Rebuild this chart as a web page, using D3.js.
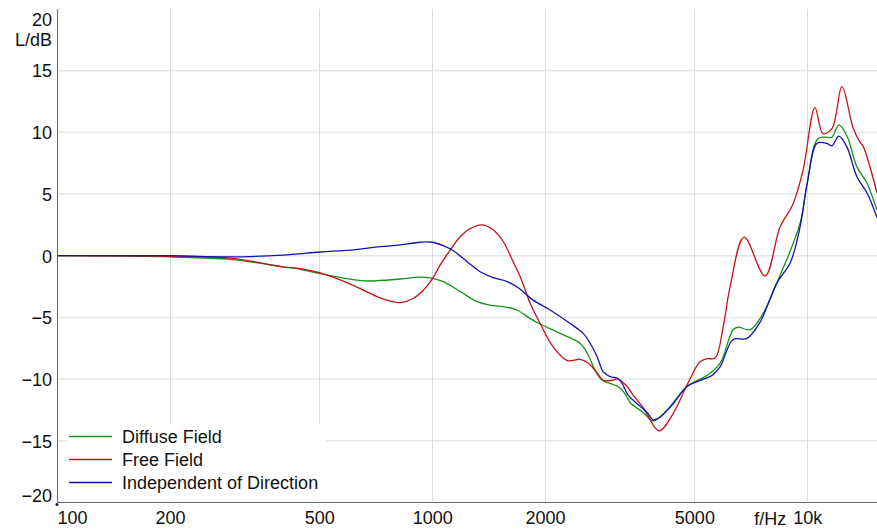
<!DOCTYPE html>
<html>
<head>
<meta charset="utf-8">
<script src="https://cdn.jsdelivr.net/npm/d3@7"></script>
<style>
  html, body { margin: 0; padding: 0; background: #fff; }
  svg { display: block; font-family: "Liberation Sans", Arial, sans-serif; }
  .grid-h { stroke: #e6e6e6; stroke-width: 1.5; }
  .grid-v { stroke: #dcdcdc; stroke-width: 1; }
  .axis-line { stroke: #666; stroke-width: 1; }
  .tick-label { font-size: 18px; fill: #111; }
  .legend-label { font-size: 18px; fill: #111; }
  .result-line { fill: none; stroke-width: 1.3; }
</style>
</head>
<body>
<svg id="chart" width="877" height="529"></svg>
<script>
// Values (Hz, dB)
const yTicks = [-20, -15, -10, -5, 0, 5, 10, 15, 20];
const xTicks = [100, 200, 500, 1000, 2000, 5000, 10000];
const xTickLabels = ['100', '200', '500', '1000', '2000', '5000', '10k'];

const seriesNames = ['Diffuse Field', 'Free Field', 'Independent of Direction'];
const seriesColors = ['#17921a', '#c41414', '#1212b0'];

const diffuseFreq = [100, 200, 290, 400, 445, 503, 605, 672, 822, 930, 1002, 1071, 1188, 1318, 1426, 1548, 1684, 1825, 1941, 2195, 2480, 2605, 2720, 2840, 2982, 3131, 3269, 3370, 3650, 3880, 4230, 4780, 5410, 5860, 6340, 6540, 7040, 7620, 8300, 9560, 10000, 10680, 11280, 11630, 12140, 12760, 13560, 14420, 15340];
const diffuseLevel = [0, -0.1, -0.3, -0.9, -1.1, -1.45, -1.9, -2.05, -1.89, -1.73, -1.83, -2.1, -2.9, -3.73, -4.0, -4.13, -4.4, -5.1, -5.54, -6.3, -7.1, -8.05, -9.3, -10.1, -10.35, -10.6, -11.2, -11.9, -12.7, -13.4, -12.5, -10.6, -9.7, -8.7, -6.0, -5.8, -6.0, -4.7, -2.2, 2.6, 5.9, 9.5, 9.6, 9.6, 10.6, 9.7, 7.2, 5.9, 3.7];

const freeFreq = [100, 200, 290, 400, 445, 503, 605, 672, 740, 822, 891, 947, 1002, 1051, 1117, 1188, 1262, 1360, 1454, 1548, 1644, 1717, 1825, 1941, 2102, 2291, 2480, 2605, 2754, 2856, 3019, 3131, 3309, 3434, 3650, 4027, 4388, 4812, 5178, 5400, 5680, 5965, 6227, 6785, 7715, 8457, 9161, 9739, 10484, 11009, 11634, 12370, 13234, 13816, 14073, 15340];
const freeLevel = [0, -0.05, -0.2, -0.9, -1.05, -1.4, -2.3, -2.95, -3.5, -3.8, -3.45, -2.8, -1.85, -0.75, 0.46, 1.54, 2.2, 2.5, 2.1, 1.13, -0.5, -1.7, -3.86, -5.5, -7.4, -8.5, -8.4, -8.7, -9.5, -10.1, -10.1, -10.0, -10.6, -11.3, -12.3, -14.2, -12.8, -10.3, -8.6, -8.35, -8.3, -5.8, -2.5, 1.5, -1.65, 2.3, 4.2, 6.9, 12.0, 9.9, 10.3, 13.7, 10.4, 9.2, 8.9, 5.1];

const independentFreq = [100, 200, 290, 400, 503, 605, 727, 822, 930, 1002, 1071, 1141, 1240, 1342, 1454, 1585, 1697, 1859, 2063, 2333, 2527, 2638, 2754, 2856, 2982, 3131, 3228, 3330, 3740, 3880, 4050, 4390, 4780, 5180, 5580, 5860, 6340, 6910, 7480, 8300, 9000, 9560, 10000, 10610, 11280, 11630, 12140, 12760, 13560, 14420, 15340];
const independentLevel = [0, 0, -0.1, 0.05, 0.3, 0.45, 0.73, 0.87, 1.09, 1.09, 0.81, 0.38, -0.49, -1.3, -1.78, -2.1, -2.6, -3.6, -4.4, -5.5, -6.3, -7.1, -8.2, -9.4, -9.8, -9.95, -10.5, -11.3, -12.7, -13.3, -13.1, -12.0, -10.6, -10.1, -9.7, -9.0, -6.8, -6.7, -5.4, -2.2, -0.6, 2.3, 5.9, 9.1, 9.1, 8.9, 9.7, 8.8, 6.4, 5.1, 3.1];

const seriesFreqs = [diffuseFreq, freeFreq, independentFreq];
const seriesLevels = [diffuseLevel, freeLevel, independentLevel];

const plot = { left: 57, right: 877, top: 9, bottom: 502.4 };

const svg = d3.select('#chart');
const x = d3.scaleLog().domain([100, 15340]).range([plot.left, plot.right]);
const y = d3.scaleLinear().domain([-20, 20]).range([plot.bottom, plot.top]);

svg.append('defs')
  .append('clipPath')
  .attr('id', 'plot-clip')
  .append('rect')
  .attr('x', plot.left)
  .attr('y', plot.top)
  .attr('width', plot.right - plot.left)
  .attr('height', plot.bottom - plot.top);

// grid
svg.append('g')
  .selectAll('line')
  .data(yTicks.filter((t) => t > -20 && t < 20))
  .join('line')
  .attr('class', 'grid-h')
  .attr('x1', plot.left)
  .attr('x2', plot.right)
  .attr('y1', (d) => y(d))
  .attr('y2', (d) => y(d));

svg.append('g')
  .selectAll('line')
  .data(xTicks.slice(1))
  .join('line')
  .attr('class', 'grid-v')
  .attr('x1', (d) => Math.round(x(d)) + 0.5)
  .attr('x2', (d) => Math.round(x(d)) + 0.5)
  .attr('y1', plot.top)
  .attr('y2', plot.bottom);

// curves
const line = d3.line()
  .x((d) => x(d.f))
  .y((d) => y(d.l))
  .curve(d3.curveCatmullRom.alpha(0.5));

const curves = svg.append('g').attr('clip-path', 'url(#plot-clip)');

seriesNames.forEach((name, i) => {
  const data = seriesFreqs[i].map((f, k) => ({ f, l: seriesLevels[i][k] }));
  curves.append('path')
    .datum(data)
    .attr('class', 'result-line')
    .attr('stroke', seriesColors[i])
    .attr('d', line);
});

// axes
const yAxis = svg.append('g')
  .attr('transform', `translate(${plot.left}, 0)`)
  .call(d3.axisLeft(y).tickValues(yTicks).tickSize(0).tickPadding(5));
yAxis.select('.domain').remove();
yAxis.selectAll('text')
  .attr('class', 'tick-label')
  .attr('font-family', null)
  .attr('dy', (d) => (d === 20 ? '0.9em' : d === -20 ? '-0.05em' : '0.35em'));

svg.append('text')
  .attr('class', 'tick-label')
  .attr('x', plot.left - 5)
  .attr('y', 46)
  .attr('text-anchor', 'end')
  .text('L/dB');

const xAxis = svg.append('g')
  .attr('transform', `translate(0, ${plot.bottom})`)
  .call(d3.axisBottom(x).tickValues(xTicks).tickSize(0).tickPadding(9)
    .tickFormat((d, i) => xTickLabels[i]));
xAxis.select('.domain').remove();
xAxis.selectAll('text')
  .attr('class', 'tick-label')
  .attr('font-family', null)
  .attr('dx', (d) => (d === 100 ? '15' : 0));

svg.append('text')
  .attr('class', 'tick-label')
  .attr('x', x(10000) - 21)
  .attr('y', plot.bottom + 22.5)
  .attr('text-anchor', 'end')
  .text('f/Hz');

svg.append('line')
  .attr('class', 'axis-line')
  .attr('x1', plot.left + 0.5)
  .attr('x2', plot.left + 0.5)
  .attr('y1', plot.top)
  .attr('y2', plot.bottom);

svg.append('line')
  .attr('class', 'axis-line')
  .attr('x1', plot.left)
  .attr('x2', plot.right)
  .attr('y1', Math.round(plot.bottom) + 0.5)
  .attr('y2', Math.round(plot.bottom) + 0.5);

svg.append('circle')
  .attr('cx', plot.left)
  .attr('cy', plot.bottom + 2)
  .attr('r', 1.5)
  .attr('fill', '#102040');

// legend
const legend = svg.append('g');
legend.append('rect')
  .attr('x', 68)
  .attr('y', 424)
  .attr('width', 258)
  .attr('height', 77)
  .attr('fill', '#fff');

const legendRows = legend.selectAll('g')
  .data(seriesNames)
  .join('g')
  .attr('transform', (d, i) => `translate(69, ${436.5 + i * 23})`);

legendRows.append('line')
  .attr('x1', 0)
  .attr('x2', 43)
  .attr('stroke', (d, i) => seriesColors[i])
  .attr('stroke-width', 1.5);

legendRows.append('text')
  .attr('class', 'legend-label')
  .attr('x', 53)
  .attr('dy', '0.35em')
  .text((d) => d);
</script>
</body>
</html>
